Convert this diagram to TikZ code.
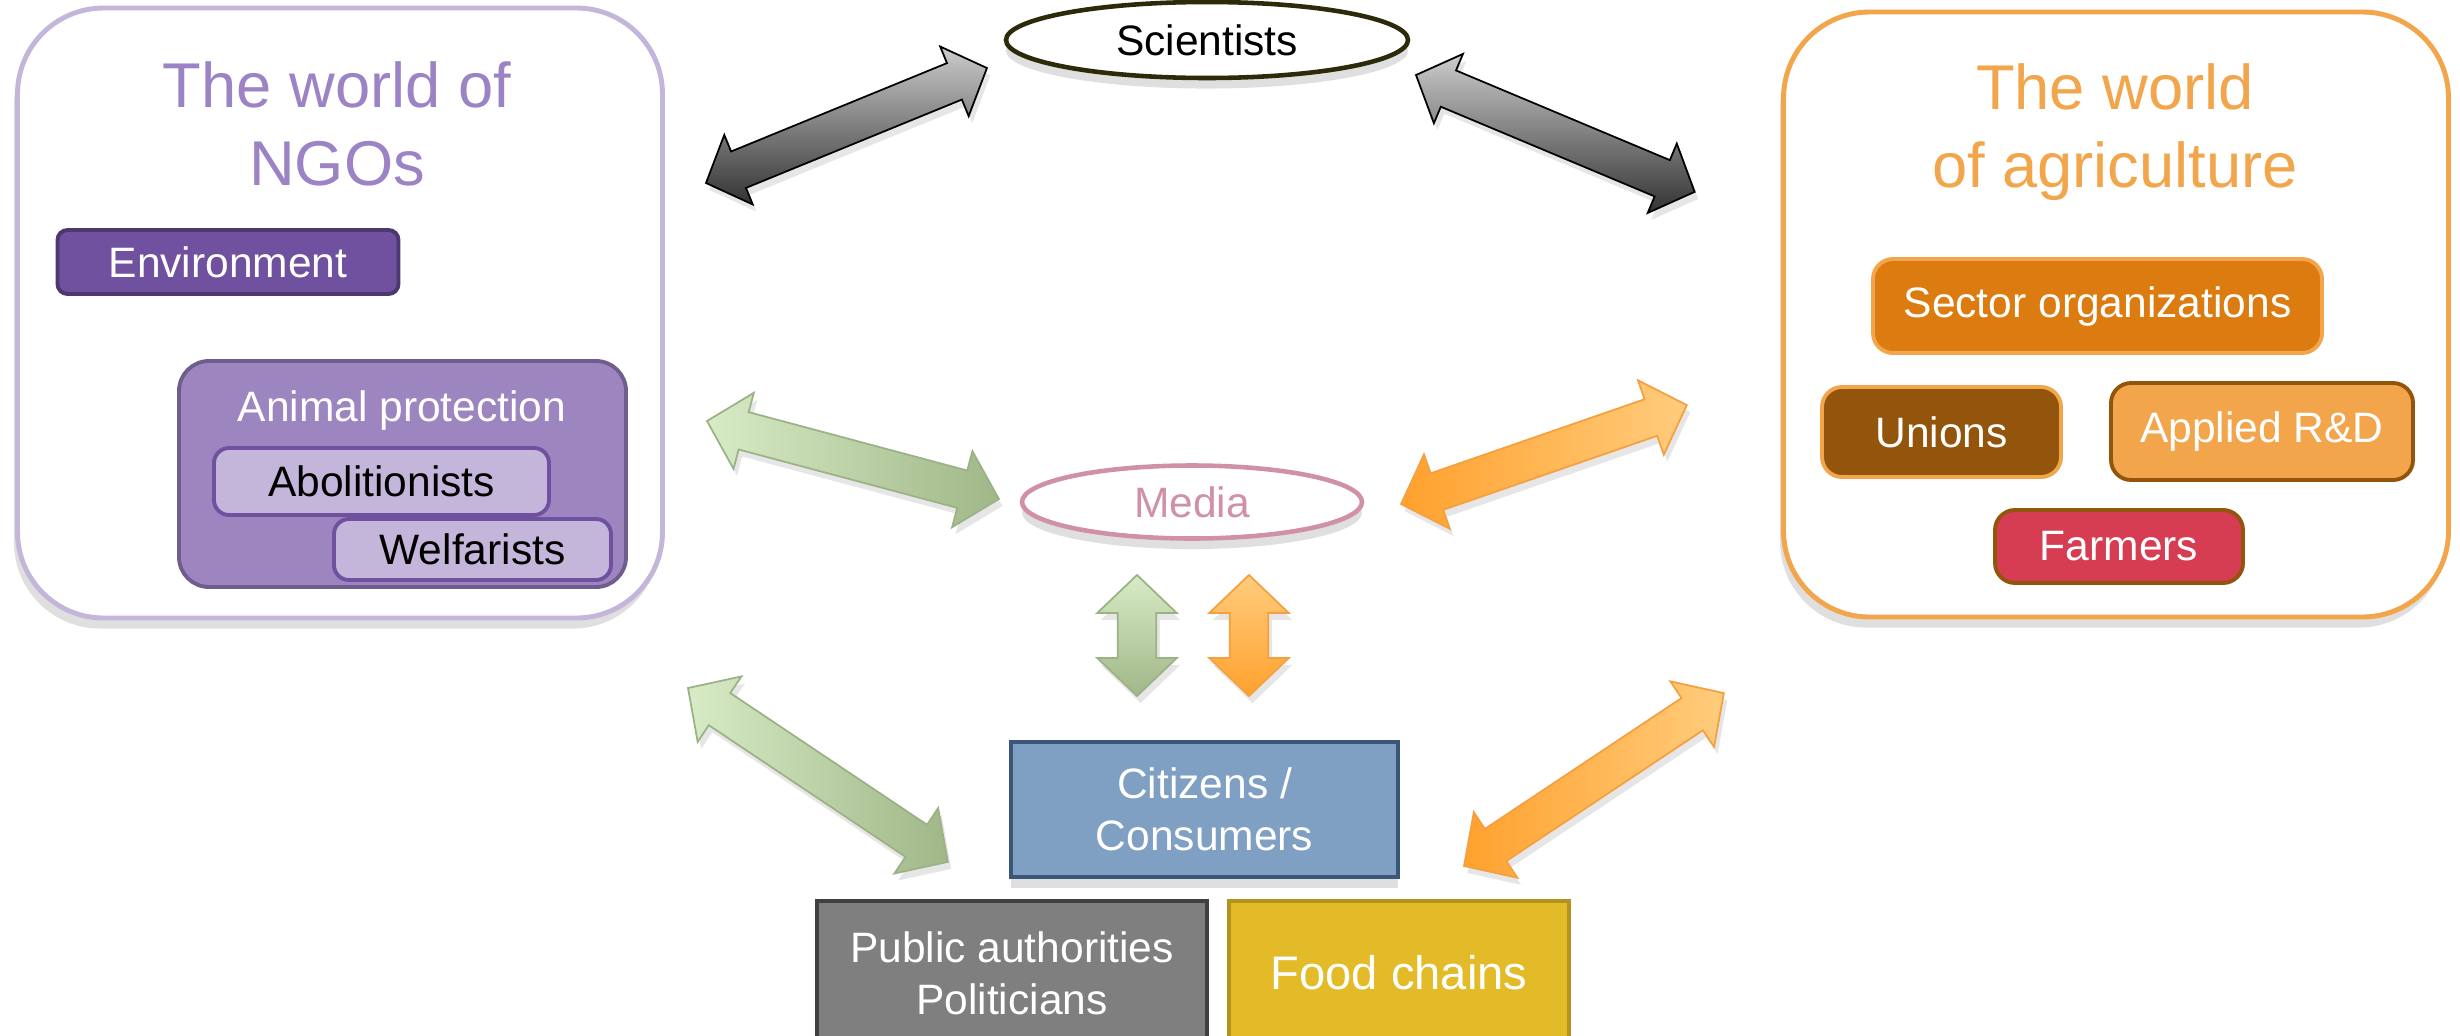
\documentclass[tikz,border=0pt]{standalone}
\usepackage{fontspec}
\setmainfont{Liberation Sans}
\usetikzlibrary{calc,shapes.geometric,shadows}
\definecolor{ngoline}{HTML}{C4B6DA}
\definecolor{ngotitle}{HTML}{9B83C5}
\definecolor{envfill}{HTML}{7051A0}
\definecolor{envline}{HTML}{4E3870}
\definecolor{apfill}{HTML}{9D85C0}
\definecolor{apline}{HTML}{6F5E8D}
\definecolor{subfill}{HTML}{C4B6DA}
\definecolor{agline}{HTML}{F2A54A}
\definecolor{secfill}{HTML}{DC7C10}
\definecolor{unfill}{HTML}{93540B}
\definecolor{farmfill}{HTML}{D63C52}
\definecolor{sciline}{HTML}{2D2A0A}
\definecolor{medline}{HTML}{D090A8}
\definecolor{citfill}{HTML}{7F9FC3}
\definecolor{citline}{HTML}{3A5678}
\definecolor{pubfill}{HTML}{7F7F7F}
\definecolor{publine}{HTML}{404040}
\definecolor{foodfill}{HTML}{E3BB28}
\definecolor{foodline}{HTML}{B49220}
\definecolor{glight}{HTML}{D7EBC5}
\definecolor{gdark}{HTML}{A0B788}
\definecolor{gline}{HTML}{9BB286}
\definecolor{olight}{HTML}{FFCC7C}
\definecolor{odark}{HTML}{FFA12E}
\definecolor{oline}{HTML}{F5A040}
% block double arrow between two named coordinates
% #1 from, #2 to, #3 style, #4 head length, #5 head half width, #6 shaft half width
\newcommand\blockarrow[6]{%
  \path[#3] let \p1=($(#2)-(#1)$), \n1={veclen(\x1,\y1)}, \n2={atan2(\y1,\x1)} in
   {[shift={(#1)}, rotate=\n2]
    (0pt,0pt) -- (#4,#5) -- (#4,#6) -- (\n1-#4,#6) -- (\n1-#4,#5) -- (\n1,0pt)
    -- (\n1-#4,-#5) -- (\n1-#4,-#6) -- (#4,-#6) -- (#4,-#5) -- cycle};
}
\begin{document}
\begin{tikzpicture}[x=0.1mm,y=-0.1mm,
  lab/.style={font=\fontsize{12.1}{14.8}\selectfont, align=center},
  ttl/.style={font=\fontsize{18}{22}\selectfont, align=center},
  world/.style={draw, line width=1.4pt, rounded corners=8.6mm, fill=white, inner sep=0pt,
    drop shadow={shadow xshift=-1pt, shadow yshift=-3pt, opacity=0.25}},
  ibox/.style={draw, line width=1.1pt, rounded corners=1.5mm, inner sep=0pt, lab, text=white},
  sqbox/.style={draw, line width=1.4pt, inner sep=0pt, lab, text=white,
    drop shadow={shadow xshift=0pt, shadow yshift=-3pt, opacity=0.25}},
  oval/.style={ellipse, draw, line width=1.3pt, fill=white, inner sep=0pt, lab,
    drop shadow={shadow xshift=0pt, shadow yshift=-3pt, opacity=0.25}},
  arrshadow/.style={drop shadow={shadow xshift=1pt, shadow yshift=-2pt, opacity=0.2}},
  grayarr/.style={arrshadow, draw=black, line width=0.5pt, top color=gray!40, bottom color=black!80},
  greenarr/.style={arrshadow, draw=gline, line width=0.5pt, left color=glight, right color=gdark},
  greenvarr/.style={arrshadow, draw=gline, line width=0.5pt, top color=glight, bottom color=gdark},
  orangearr/.style={arrshadow, draw=oline, line width=0.5pt, left color=odark, right color=olight},
  orangevarr/.style={arrshadow, draw=oline, line width=0.5pt, top color=olight, bottom color=odark}
]
\useasboundingbox (0,0) rectangle (2460,1035);
\clip (0,0) rectangle (2460,1035);

% worlds
\node[world, draw=ngoline, minimum width=64.5mm, minimum height=61mm] (ngo) at (340,313) {};
\node[ttl, text=ngotitle] (ngot) at (337,124) {The world of\\NGOs};
\node[ibox, fill=envfill, draw=envline, minimum width=34.1mm, minimum height=6.4mm, rounded corners=1mm] (env) at (228,262) {Environment};
\node[ibox, fill=apfill, draw=apline, minimum width=44.7mm, minimum height=22.6mm, rounded corners=3mm] (ap) at (402.5,474) {};
\node[lab, text=white] (apt) at (402,410) {Animal protection};
\node[ibox, fill=subfill, draw=envfill, text=black, minimum width=33.5mm, minimum height=6.7mm] (abol) at (381.5,481.5) {Abolitionists};
\node[ibox, fill=subfill, draw=envfill, text=black, minimum width=27.7mm, minimum height=6.1mm] (welf) at (472.5,549.5) {Welfarists};

\node[world, draw=agline, minimum width=66.5mm, minimum height=60.5mm] (agri) at (2116,314.5) {};
\node[ttl, text=agline] (agrit) at (2115,132) {The world\\of agriculture};
\node[ibox, fill=secfill, draw=agline, minimum width=44.9mm, minimum height=9.4mm, rounded corners=2mm] (sec) at (2097.5,306) {Sector organizations};
\node[ibox, fill=unfill, draw=agline, minimum width=23.9mm, minimum height=9mm, rounded corners=2mm] (uni) at (1941.5,432) {Unions};
\node[ibox, fill=agline, draw=unfill, minimum width=30.2mm, minimum height=9.7mm, rounded corners=2mm] (ard) at (2262,431.5) {Applied R\&D};
\node[ibox, fill=farmfill, draw=unfill, minimum width=24.8mm, minimum height=7.3mm, rounded corners=2mm] (farm) at (2119,546.5) {Farmers};

% ovals
\node[oval, draw=sciline, minimum width=40.2mm, minimum height=7.6mm] (sci) at (1207,40) {Scientists};
\node[oval, draw=medline, text=medline, minimum width=34mm, minimum height=7.3mm] (med) at (1192,502) {Media};

% bottom boxes
\node[sqbox, fill=citfill, draw=citline, minimum width=38.7mm, minimum height=13.5mm] (cit) at (1204.5,809.5) {Citizens /\\Consumers};
\node[sqbox, fill=pubfill, draw=publine, minimum width=39mm, minimum height=14.4mm] (pub) at (1012,973) {Public authorities\\Politicians};
\node[sqbox, fill=foodfill, draw=foodline, minimum width=34mm, minimum height=14.4mm, font=\fontsize{13.4}{16}\selectfont] (food) at (1399,973) {Food chains};

% arrow end points
\coordinate (gl1) at (706,183);  \coordinate (gl2) at (987,68);
\coordinate (gr1) at (1416,75);  \coordinate (gr2) at (1695,192);
\coordinate (mg1) at (707,421);  \coordinate (mg2) at (999,499);
\coordinate (mo1) at (1401,504); \coordinate (mo2) at (1687,405);
\coordinate (vg1) at (1137,575); \coordinate (vg2) at (1137,696);
\coordinate (vo1) at (1249,575); \coordinate (vo2) at (1249,696);
\coordinate (cg1) at (688,688);  \coordinate (cg2) at (948,862);
\coordinate (co1) at (1464,866); \coordinate (co2) at (1724,693);

\blockarrow{gl1}{gl2}{grayarr}{10pt}{10.7pt}{5.6pt}
\blockarrow{gr1}{gr2}{grayarr}{10pt}{10.7pt}{5.6pt}
\blockarrow{mg1}{mg2}{greenarr}{10.8pt}{11.2pt}{5.5pt}
\blockarrow{mo1}{mo2}{orangearr}{10.8pt}{11.2pt}{5.5pt}
\blockarrow{vg1}{vg2}{greenvarr}{10.8pt}{11.3pt}{5.5pt}
\blockarrow{vo1}{vo2}{orangevarr}{10.8pt}{11.3pt}{5.5pt}
\blockarrow{cg1}{cg2}{greenarr}{10.8pt}{11.2pt}{5.5pt}
\blockarrow{co1}{co2}{orangearr}{10.8pt}{11.2pt}{5.5pt}
\end{tikzpicture}
\end{document}
